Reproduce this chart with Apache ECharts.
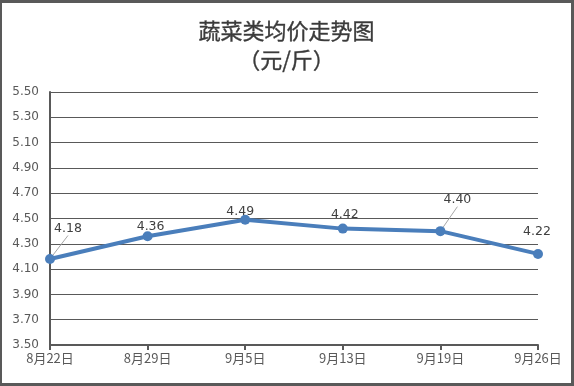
<!DOCTYPE html>
<html><head><meta charset="utf-8">
<script src="https://cdn.jsdelivr.net/npm/echarts@6/dist/echarts.min.js"></script>
<style>html,body{margin:0;padding:0;background:#fff}#c{width:574px;height:386px;box-sizing:border-box;border:3px solid #595959;border-left-width:2px;}</style>
</head><body><div id="c"></div>
<script>
const categories = ['8月22日','8月29日','9月5日','9月13日','9月19日','9月26日'];
const prices = [4.18, 4.36, 4.49, 4.42, 4.40, 4.22];
const yTicks = [3.5, 5.5, 0.2];
const labelShift = [[18,-30],[3,-9],[-5,-8],[2,-14],[17,-31],[-1,-22]];
const leaderShown = [true,false,false,false,true,false];

const chart = echarts.init(document.getElementById('c'), null, {renderer:'canvas'});
const font = '"Noto Sans CJK SC", "Microsoft YaHei", sans-serif';
chart.setOption({
  animation:false,
  title:{text:'蔬菜类均价走势图\n（元/斤）', left:'center', top:8,
    textStyle:{fontSize:22, fontWeight:'normal', color:'#3a3a3a', lineHeight:29, fontFamily:font,
      textBorderColor:'#555', textBorderWidth:0.4}},
  grid:{left:48, right:33, top:89, bottom:38},
  xAxis:{type:'category', data:categories, boundaryGap:false,
    axisLine:{lineStyle:{color:'#595959', width:2}},
    axisTick:{show:true, length:5, alignWithLabel:true, lineStyle:{color:'#595959', width:2}},
    axisLabel:{color:'#595959', fontSize:13, margin:7, fontFamily:font}},
  yAxis:{type:'value', min:yTicks[0], max:yTicks[1], interval:yTicks[2],
    axisLine:{show:true, lineStyle:{color:'#595959', width:2}},
    axisTick:{show:false},
    splitLine:{lineStyle:{color:'#595959', width:1}},
    axisLabel:{color:'#595959', fontSize:12, margin:11, fontFamily:'Verdana, "DejaVu Sans", sans-serif', formatter:v=>v.toFixed(2)}},
  series:[{type:'line', data:prices.map((v,i)=>({value:v, labelLine:{show:leaderShown[i]}})),
    symbol:'circle', symbolSize:10,
    lineStyle:{color:'#4a7ebb', width:4},
    itemStyle:{color:'#4a7ebb'},
    label:{show:true, position:'inside', color:'#404040', fontSize:12.5, fontFamily:'"DejaVu Sans", sans-serif', formatter:p=>p.value.toFixed(2)},
    labelLine:{show:false, lineStyle:{color:'#a6a6a6', width:1}},
    labelLayout:(p)=>({dx:labelShift[p.dataIndex][0], dy:labelShift[p.dataIndex][1]})
  }]
});
</script></body></html>
